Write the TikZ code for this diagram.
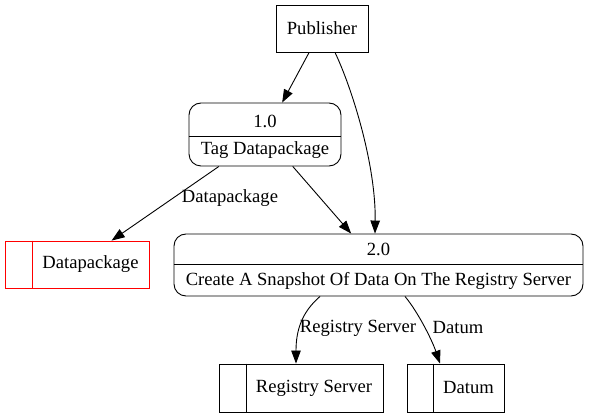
\documentclass[tikz,border=0pt]{standalone}
\usepackage{fontspec}
\setmainfont{Liberation Serif}
\usetikzlibrary{arrows.meta}
\definecolor{storered}{RGB}{255,0,0}
\tikzset{
  every node/.style={font=\fontsize{18.6}{21}\selectfont, inner sep=0pt},
  ln/.style={line width=0.9pt},
  proc/.style={ln, draw, rounded corners=12pt},
  ent/.style={ln, draw},
  store/.style={ln, draw},
  arr/.style={ln, -{Triangle[length=13pt,width=9.5pt]}}
}
\begin{document}
\begin{tikzpicture}[x=1pt,y=-1pt]
\useasboundingbox (0,0) rectangle (589,419);
% Publisher
\node[ent, minimum width=92pt, minimum height=47pt] (pub) at (322,28.5) {Publisher};
% Process 1.0
\node[proc, minimum width=152pt, minimum height=63pt] (p1) at (265,134.5) {};
\node (p1id) at (265,121) {1.0};
\node (p1t) at (265,150) {Tag Datapackage};
\draw[ln] (p1.west |- {(0,136)}) -- (p1.east |- {(0,136)});
% Process 2.0
\node[proc, minimum width=409pt, minimum height=62pt] (p2) at (378.5,265) {};
\node (p2id) at (378.5,249) {2.0};
\node (p2t) at (378.5,281) {Create A Snapshot Of Data On The Registry Server};
\draw[ln] (p2.west |- {(0,264)}) -- (p2.east |- {(0,264)});
% Stores
\node[store, draw=storered, minimum width=144pt, minimum height=47pt] (dp) at (77,264.5) {};
\node (dpt) at (90.5,264.5) {Datapackage};
\draw[ln, storered] (dp.north west -| {(32,0)}) -- (dp.south west -| {(32,0)});
\node[store, minimum width=164pt, minimum height=48pt] (rs) at (301,388) {};
\node (rst) at (314,388) {Registry Server};
\draw[ln] (rs.north west -| {(246,0)}) -- (rs.south west -| {(246,0)});
\node[store, minimum width=97pt, minimum height=48pt] (dt) at (455.5,388) {};
\node (dtt) at (468.5,388) {Datum};
\draw[ln] (dt.north west -| {(433,0)}) -- (dt.south west -| {(433,0)});
% Edges
\draw[arr] (pub) -- (p1);
\draw[arr] ([xshift=13pt]pub.south) .. controls (352,88) and (376,165) .. ([xshift=-3.5pt]p2.north);
\draw[arr] (p1) -- (p2);
\draw[arr] (p1) -- (dp);
\node (l1) at (230,198) {Datapackage};
\draw[arr] ([xshift=-58.5pt]p2.south) .. controls (302,312) and (296,330) .. ([xshift=-5pt]rs.north);
\node (l2) at (358,328) {Registry Server};
\draw[arr] ([xshift=26.5pt]p2.south) .. controls (418,312) and (432,340) .. ([xshift=-15.5pt]dt.north);
\node (l3) at (458,328) {Datum};
\end{tikzpicture}
\end{document}
